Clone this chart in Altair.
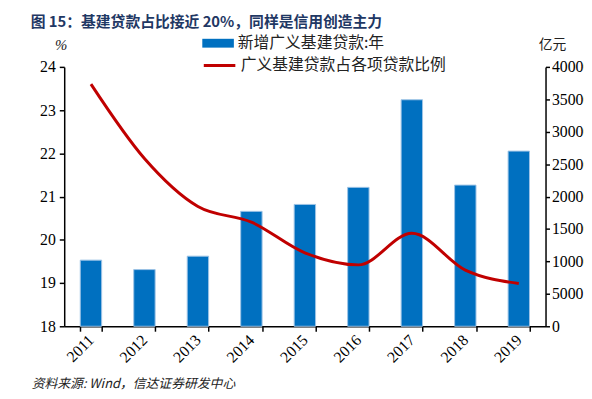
import altair as alt
import pandas as pd

years = ["2011", "2012", "2013", "2014", "2015", "2016", "2017", "2018", "2019"]
loans = [10200, 8740, 10810, 17720, 18790, 21420, 34930, 21770, 27010]
share = [23.60, 21.88, 20.77, 20.41, 19.70, 19.42, 20.15, 19.30, 18.99]
bar_name = "新增广义基建贷款:年"
line_name = "广义基建贷款占各项贷款比例"
title_text = "图 15：基建贷款占比接近 20%，同样是信用创造主力"
source_text = "资料来源: Wind，信达证券研发中心"
left_unit = "%"
right_unit = "亿元"

df = pd.DataFrame({"year": years, "loans": loans, "share": share,
                   "s1": bar_name, "s2": line_name})

W, H = 488, 263
serif = "Liberation Serif"
cjk = "Noto Sans CJK SC"

x = alt.X("year:N", sort=years,
          scale=alt.Scale(paddingInner=0.6, paddingOuter=0.3),
          axis=alt.Axis(title=None, labelAngle=315, labelAlign="right",
                        labelBaseline="middle", labelPadding=6,
                        tickBand="extent", tickSize=5))

base = alt.Chart(df)

bars = base.mark_bar(stroke="#9DC3E6", strokeWidth=1).encode(
    x=x,
    y=alt.Y("loans:Q",
            scale=alt.Scale(domain=[0, 40000], nice=False),
            axis=alt.Axis(orient="right", title=None, grid=False,
                          values=list(range(0, 40001, 5000)), format="d",
                          tickSize=4)),
    fill=alt.Fill("s1:N", scale=alt.Scale(range=["#0070C0"]),
                  legend=alt.Legend(title=None, orient="none", legendX=140, legendY=-40,
                                    symbolType="M-1,-0.28H1V0.28H-1Z", symbolSize=1024,
                                    symbolStrokeWidth=0, labelOffset=4, padding=0,
                                    labelLimit=400,
                                    labelFont=cjk, labelFontSize=16, labelColor="#222222")),
)

line = base.mark_line(strokeWidth=3, interpolate="monotone").encode(
    x=x,
    y=alt.Y("share:Q",
            scale=alt.Scale(domain=[18, 24], nice=False, zero=False),
            axis=alt.Axis(orient="left", title=None, grid=False,
                          values=[18, 19, 20, 21, 22, 23, 24], tickSize=5,
                          labelPadding=4)),
    stroke=alt.Stroke("s2:N", scale=alt.Scale(range=["#C00000"]),
                      legend=alt.Legend(title=None, orient="none", legendX=140, legendY=-19,
                                        symbolType="stroke", symbolSize=1024,
                                        symbolStrokeWidth=3, labelOffset=4, padding=0,
                                        labelLimit=400,
                                        labelFont=cjk, labelFontSize=16, labelColor="#222222")),
)

def txt(s, xv, yv, **kw):
    return alt.Chart(pd.DataFrame({"t": [s]})).mark_text(**kw).encode(
        text="t:N", x=alt.value(xv), y=alt.value(yv))

title = txt(title_text, -34, -45, align="left", baseline="middle", font=cjk,
            fontSize=15, fontWeight="bold", color="#1F3864")
pct = txt(left_unit, -3, -22, align="center", baseline="middle", font=serif,
          fontSize=15, fontStyle="italic", color="#222222")
yy = txt(right_unit, 495, -22, align="center", baseline="middle", font=cjk,
         fontSize=14, color="#222222")
src = txt(source_text, -33, 322, align="left", baseline="middle", font=cjk,
          fontSize=13, fontStyle="italic", color="#222222")

chart = alt.layer(bars, line, title, pct, yy, src).resolve_scale(
    y="independent", fill="independent", stroke="independent"
).properties(
    width=W, height=H,
    autosize=alt.AutoSizeParams(type="none"),
    padding={"left": 57, "top": 57, "right": 39, "bottom": 69},
).configure_view(stroke=None).configure_axis(
    domainColor="black", domainWidth=1.5, tickColor="black", tickWidth=1.5,
    labelFont=serif, labelFontSize=16, labelColor="black",
)

chart.save("out.html", embed_options={"renderer": "svg", "actions": False})
